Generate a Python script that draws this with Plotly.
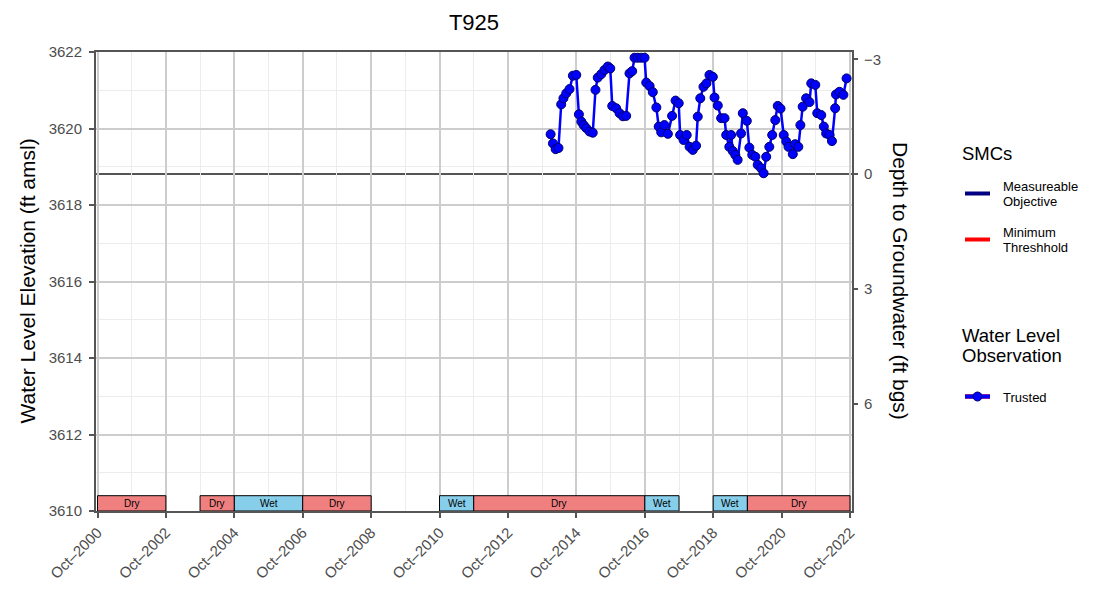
import pandas as pd
import plotly.graph_objects as go

# ---- well / site info ----
site_name = "T925"
ground_surface = 3618.81          # ft amsl, depth 0 on the right axis
elev_min, elev_max = 3610, 3622

# ---- water level observations (trusted) ----
obs_dates = [
    "2013-12-30", "2014-01-24", "2014-02-22", "2014-03-24", "2014-04-22", "2014-05-16",
    "2014-06-15", "2014-07-20", "2014-08-25", "2014-09-30", "2014-10-28", "2014-11-23",
    "2014-12-17", "2015-01-15", "2015-02-19", "2015-03-25", "2015-04-23", "2015-05-17",
    "2015-06-23", "2015-07-28", "2015-09-02", "2015-09-28", "2015-10-19", "2015-11-30",
    "2016-01-05", "2016-02-10", "2016-03-16", "2016-04-20", "2016-05-19", "2016-06-13",
    "2016-07-18", "2016-08-24", "2016-09-28", "2016-10-16", "2016-11-21", "2016-12-25",
    "2017-02-01", "2017-02-26", "2017-03-25", "2017-04-28", "2017-06-04", "2017-07-19",
    "2017-08-25", "2017-09-28", "2017-10-13", "2017-11-19", "2017-12-22", "2018-01-22",
    "2018-02-25", "2018-04-01", "2018-04-19", "2018-05-16", "2018-06-19", "2018-07-21",
    "2018-08-22", "2018-09-27", "2018-10-15", "2018-11-19", "2018-12-25", "2019-01-30",
    "2019-02-17", "2019-03-22", "2019-04-10", "2019-04-28", "2019-05-25", "2019-06-19",
    "2019-07-25", "2019-08-13", "2019-09-25", "2019-10-22", "2019-11-22", "2019-12-25",
    "2020-01-19", "2020-02-25", "2020-03-22", "2020-04-19", "2020-05-22", "2020-06-22",
    "2020-07-25", "2020-08-20", "2020-09-19", "2020-10-23", "2020-11-19", "2020-12-13",
    "2021-01-28", "2021-02-22", "2021-03-28", "2021-04-19", "2021-05-13", "2021-06-19",
    "2021-07-25", "2021-08-13", "2021-09-25", "2021-10-16", "2021-11-28", "2021-12-25",
    "2022-01-19", "2022-02-25", "2022-03-22", "2022-04-25", "2022-05-04", "2022-06-10",
    "2022-07-22", "2022-08-25",
]
obs_elev = [
    3619.85, 3619.61, 3619.46, 3619.49, 3620.63, 3620.79,
    3620.92, 3621.03, 3621.38, 3621.40, 3620.37, 3620.18,
    3620.09, 3620.01, 3619.92, 3619.89, 3621.01, 3621.33,
    3621.42, 3621.53, 3621.62, 3621.57, 3620.59, 3620.53,
    3620.40, 3620.32, 3620.33, 3621.44, 3621.50, 3621.85,
    3621.85, 3621.85, 3621.85, 3621.20, 3621.11, 3620.95,
    3620.55, 3620.05, 3619.90, 3620.09, 3619.86, 3620.33,
    3620.73, 3620.66, 3619.83, 3619.70, 3619.83, 3619.52,
    3619.44, 3619.55, 3620.31, 3620.79, 3621.09, 3621.18,
    3621.40, 3621.35, 3620.81, 3620.60, 3620.27, 3620.27,
    3619.83, 3619.52, 3619.83, 3619.41, 3619.31, 3619.18,
    3619.87, 3620.40, 3620.20, 3619.50, 3619.31, 3619.26,
    3619.05, 3618.96, 3618.83, 3619.26, 3619.52, 3619.83,
    3620.22, 3620.59, 3620.52, 3619.83, 3619.66, 3619.52,
    3619.33, 3619.59, 3619.52, 3620.09, 3620.57, 3620.79,
    3620.69, 3621.18, 3621.14, 3620.40, 3620.35, 3620.05,
    3619.87, 3619.83, 3619.67, 3620.53, 3620.89, 3620.96,
    3620.88, 3621.31,
]

# ---- water year classification ----
period_start = ["2000-10-01", "2003-10-01", "2004-10-01", "2006-10-01", "2010-10-01",
                "2011-10-01", "2016-10-01", "2018-10-01", "2019-10-01"]
period_end = ["2002-10-01", "2004-10-01", "2006-10-01", "2008-10-01", "2011-10-01",
              "2016-10-01", "2017-10-01", "2019-10-01", "2022-10-01"]
period_type = ["Dry", "Dry", "Wet", "Dry", "Wet", "Dry", "Wet", "Wet", "Dry"]
period_top = 3610.4

# ---- axis ticks ----
x_tick_vals = [f"{y}-10-01" for y in range(2000, 2023, 2)]
x_tick_text = [f"Oct\u2013{y}" for y in range(2000, 2023, 2)]
y_tick_vals = list(range(3610, 3623, 2))
depth_tick_vals = [-3, 0, 3, 6]

FONT = "Liberation Sans, Arial, sans-serif"
AXIS_GREY = "#555555"
TICK_GREY = "#4d4d4d"
type_colors = {"Dry": "#F08080", "Wet": "#87CEEB"}

fig = go.Figure()

fig.add_trace(go.Scatter(
    x=obs_dates, y=obs_elev, mode="lines+markers", name="Trusted",
    line=dict(color="#0000FF", width=2.5),
    marker=dict(size=9, color="#0000FF", line=dict(color="#00006b", width=1)),
    showlegend=False, cliponaxis=False,
))
# depth axis carrier
fig.add_trace(go.Scatter(
    x=obs_dates, y=[ground_surface - v for v in obs_elev], yaxis="y2",
    mode="lines", line=dict(width=0), hoverinfo="skip", showlegend=False,
))

shapes = []
annotations = []

# water-year bars along the bottom
for s, e, t in zip(period_start, period_end, period_type):
    shapes.append(dict(type="rect", xref="x", yref="y", x0=s, x1=e,
                       y0=elev_min, y1=period_top, fillcolor=type_colors[t],
                       line=dict(color="#000000", width=1), layer="between"))
    mid = pd.Timestamp(s) + (pd.Timestamp(e) - pd.Timestamp(s)) / 2
    annotations.append(dict(x=mid, y=(elev_min + period_top) / 2, xref="x", yref="y",
                            text=t, showarrow=False, font=dict(size=10, color="#000000",
                            family=FONT), yanchor="middle"))

# ground surface line
shapes.append(dict(type="line", xref="paper", x0=0, x1=1, yref="y",
                   y0=ground_surface, y1=ground_surface,
                   line=dict(color=AXIS_GREY, width=1.8), layer="between"))

# axis titles
annotations.append(dict(text="Water Level Elevation (ft amsl)", xref="paper", yref="paper",
                        x=(27 - 96) / 756, y=0.5, textangle=-90, showarrow=False,
                        font=dict(size=21, color="#000000", family=FONT),
                        xanchor="center", yanchor="middle"))
annotations.append(dict(text="Depth to Groundwater (ft bgs)", xref="paper", yref="paper",
                        x=(900.5 - 96) / 756, y=0.5, textangle=90, showarrow=False,
                        font=dict(size=21, color="#000000", family=FONT),
                        xanchor="center", yanchor="middle"))


# legend (drawn in pixel positions converted to paper fractions)
def px(xp):
    return (xp - 96) / 756


def py(yp):
    return (511 - yp) / 459


def legend_text(text, xp, yp, size):
    annotations.append(dict(text=text, xref="paper", yref="paper", x=px(xp), y=py(yp),
                            showarrow=False, xanchor="left", yanchor="middle",
                            font=dict(size=size, color="#000000", family=FONT)))


legend_text("SMCs", 960, 153, 18.5)
shapes.append(dict(type="line", xref="paper", yref="paper", x0=px(965), x1=px(990),
                   y0=py(193.5), y1=py(193.5), line=dict(color="#000080", width=4)))
legend_text("Measureable", 1001, 187, 13)
legend_text("Objective", 1001, 201.5, 13)
shapes.append(dict(type="line", xref="paper", yref="paper", x0=px(965), x1=px(990),
                   y0=py(239.5), y1=py(239.5), line=dict(color="#FF0000", width=4)))
legend_text("Minimum", 1001, 233, 13)
legend_text("Threshhold", 1001, 247.5, 13)

legend_text("Water Level", 960, 335, 18.5)
legend_text("Observation", 960, 355.5, 18.5)
shapes.append(dict(type="line", xref="paper", yref="paper", x0=px(965), x1=px(990),
                   y0=py(396.5), y1=py(396.5), line=dict(color="#7a1fa8", width=5)))
shapes.append(dict(type="line", xref="paper", yref="paper", x0=px(965), x1=px(990),
                   y0=py(396.5), y1=py(396.5), line=dict(color="#0000FF", width=3)))
shapes.append(dict(type="circle", xref="paper", yref="paper", xsizemode="pixel",
                   ysizemode="pixel", xanchor=px(977.5), yanchor=py(396.5),
                   x0=-4.5, x1=4.5, y0=-4.5, y1=4.5, fillcolor="#0000FF",
                   line=dict(color="#00006b", width=1)))
legend_text("Trusted", 1001, 397, 13)

fig.update_layout(
    width=1102, height=603,
    margin=dict(l=96, r=250, t=52, b=92),
    paper_bgcolor="#ffffff", plot_bgcolor="#ffffff",
    font=dict(family=FONT, color=TICK_GREY),
    title=dict(text=site_name, x=0.5, xref="paper", xanchor="center",
               y=1 - 22 / 603, yref="container", yanchor="middle",
               font=dict(size=22, color="#000000", family=FONT)),
    showlegend=False,
    shapes=shapes, annotations=annotations,
    xaxis=dict(
        type="date", range=["2000-09-15", "2022-10-22"],
        tickmode="array", tickvals=x_tick_vals, ticktext=x_tick_text, tickangle=-45,
        tickfont=dict(size=15, color=TICK_GREY, family=FONT),
        ticks="outside", ticklen=5, tickwidth=2, tickcolor=AXIS_GREY,
        showgrid=True, gridcolor="#cdcdcd", gridwidth=2,
        minor=dict(tick0="2001-10-01", dtick="M24", showgrid=True,
                   gridcolor="#ececec", gridwidth=1, ticks=""),
        showline=True, linecolor=AXIS_GREY, linewidth=2, mirror=True,
        zeroline=False,
    ),
    yaxis=dict(
        range=[elev_min, elev_max], tickmode="array", tickvals=y_tick_vals,
        tickfont=dict(size=15, color=TICK_GREY, family=FONT),
        ticks="outside", ticklen=5, tickwidth=2, tickcolor=AXIS_GREY,
        ticklabelstandoff=4,
        showgrid=True, gridcolor="#cdcdcd", gridwidth=2,
        minor=dict(dtick=1, showgrid=True, gridcolor="#ececec", gridwidth=1, ticks=""),
        showline=True, linecolor=AXIS_GREY, linewidth=2, mirror=True,
        zeroline=False,
    ),
    yaxis2=dict(
        overlaying="y", side="right",
        range=[ground_surface - elev_min, ground_surface - elev_max],
        tickmode="array", tickvals=depth_tick_vals,
        tickfont=dict(size=15, color=TICK_GREY, family=FONT),
        ticks="outside", ticklen=5, tickwidth=2, tickcolor=AXIS_GREY,
        ticklabelstandoff=3,
        showgrid=False, zeroline=False, showline=False,
    ),
)

fig.write_html("out.html")
